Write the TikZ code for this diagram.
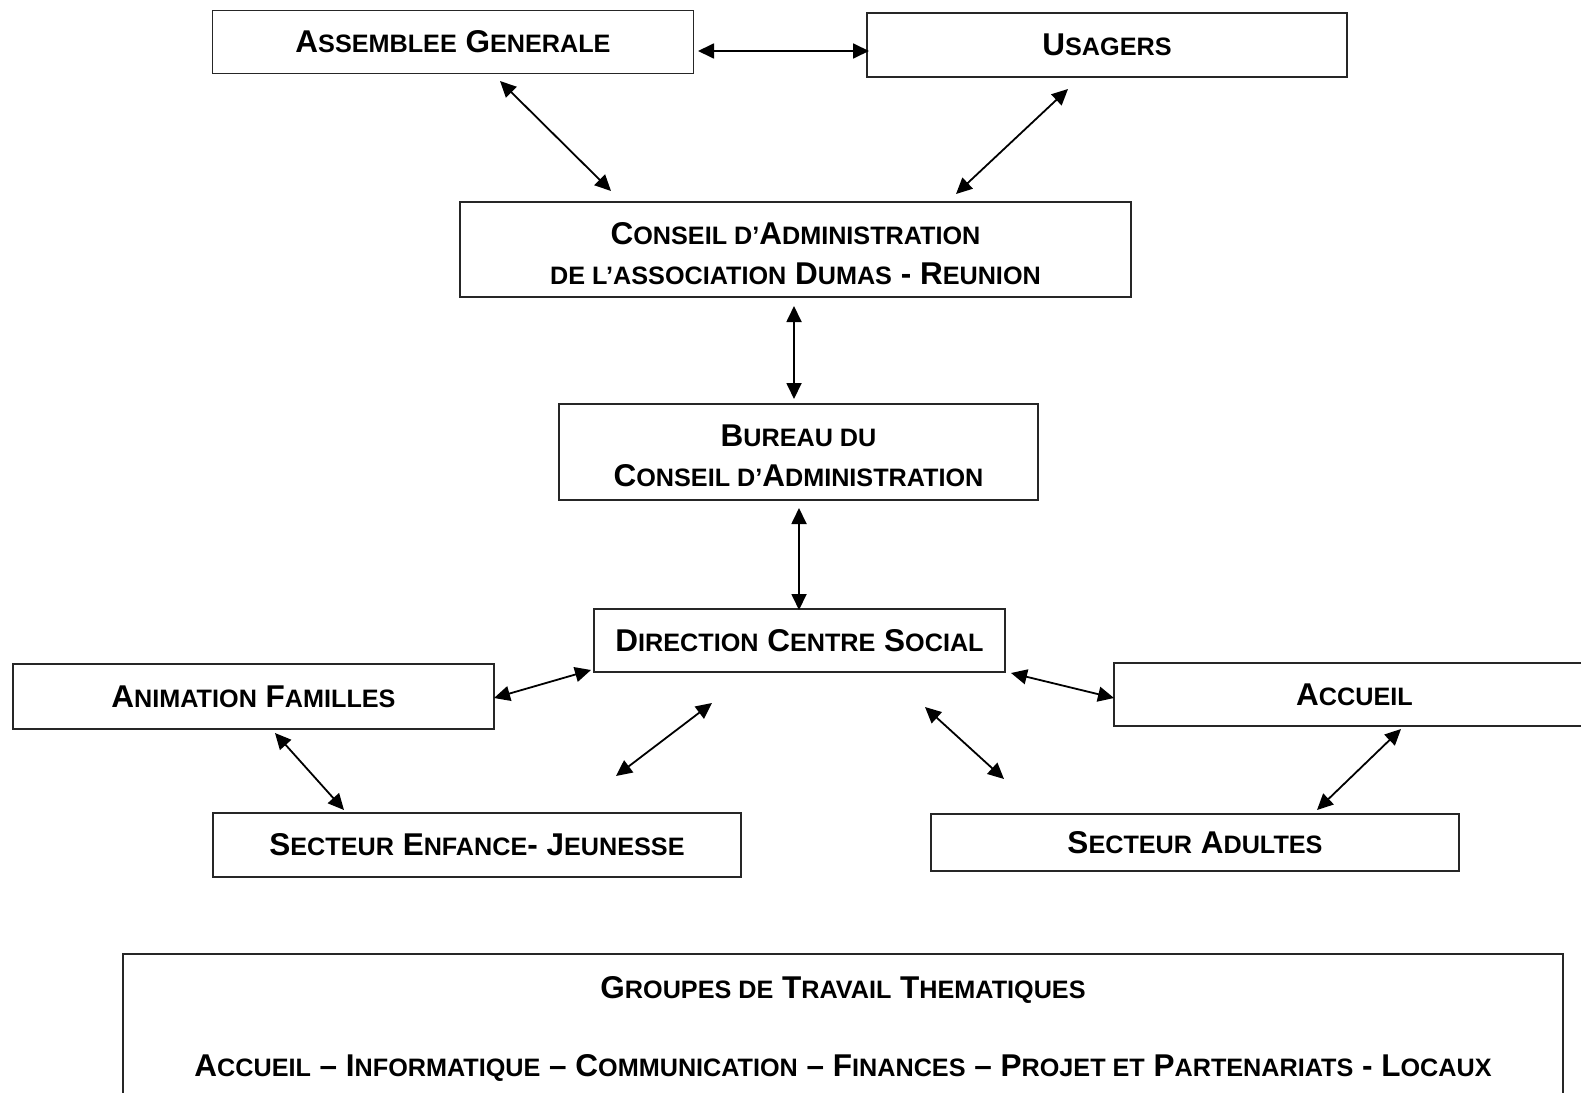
\documentclass[tikz,border=0pt]{standalone}
\usepackage{fontspec}
\setmainfont{Liberation Sans}
\usetikzlibrary{arrows.meta}
\newcommand\Sc[1]{{\fontsize{25.2}{40}\selectfont #1}}
\begin{document}
\begin{tikzpicture}[x=1pt,y=-1pt,
  box/.style={draw=black!85, line width=1.3pt, rectangle, inner sep=0pt, align=center,
    font=\bfseries\fontsize{31.5}{40}\selectfont},
  txt/.style={inner sep=0pt, align=center, font=\bfseries\fontsize{31.5}{39.5}\selectfont},
  link/.style={line width=1.8pt, {Triangle[length=16pt,width=15pt]}-{Triangle[length=16pt,width=15pt]}}]
\clip (0,0) rectangle (1581,1092);
\fill[white] (0,0) rectangle (1581,1092);
% boxes
\node[box, minimum width=481pt, minimum height=63pt] (ag) at (453,42) {A\Sc{SSEMBLEE} G\Sc{ENERALE}};
\node[box, minimum width=480pt, minimum height=64pt] (us) at (1107,45) {U\Sc{SAGERS}};
\node[box, minimum width=671pt, minimum height=95pt] (ca) at (795.5,249.5) {};
\node[txt] (cat) at ([yshift=-4pt]ca.center) {C\Sc{ONSEIL D’}A\Sc{DMINISTRATION}\\\Sc{DE L’ASSOCIATION} D\Sc{UMAS} - R\Sc{EUNION}};
\node[box, minimum width=479pt, minimum height=96pt] (bu) at (798.5,452) {};
\node[txt] (but) at ([yshift=-4pt]bu.center) {B\Sc{UREAU DU}\\C\Sc{ONSEIL D’}A\Sc{DMINISTRATION}};
\node[box, minimum width=411pt, minimum height=63pt] (di) at (799.5,640.5) {D\Sc{IRECTION} C\Sc{ENTRE} S\Sc{OCIAL}};
\node[box, minimum width=481pt, minimum height=65pt] (af) at (253.5,696.5) {A\Sc{NIMATION} F\Sc{AMILLES}};
\node[box, minimum width=481pt, minimum height=63pt] (ac) at (1354.5,694.5) {A\Sc{CCUEIL}};
\node[box, minimum width=528pt, minimum height=64pt] (ej) at (477,845) {S\Sc{ECTEUR} E\Sc{NFANCE}- J\Sc{EUNESSE}};
\node[box, minimum width=528pt, minimum height=57pt] (sa) at (1195,842.5) {S\Sc{ECTEUR} A\Sc{DULTES}};
\draw[draw=black!85, line width=1.3pt] (123,954) rectangle (1563,1110);
\node[txt] (gt) at (843,990) {G\Sc{ROUPES DE} T\Sc{RAVAIL} T\Sc{HEMATIQUES}};
\node[txt] (gl) at (843,1068) {A\Sc{CCUEIL} – I\Sc{NFORMATIQUE} – C\Sc{OMMUNICATION} – F\Sc{INANCES} – P\Sc{ROJET ET} P\Sc{ARTENARIATS} - L\Sc{OCAUX}};
% connector ends
\coordinate (p1a) at (698,51);  \coordinate (p1b) at (869,51);
\coordinate (p2a) at (500,81);  \coordinate (p2b) at (611,191);
\coordinate (p3a) at (1068,89); \coordinate (p3b) at (956,194);
\coordinate (p4a) at (794,306); \coordinate (p4b) at (794,399);
\coordinate (p5a) at (799,508); \coordinate (p5b) at (799,610);
\coordinate (p6a) at (591,670); \coordinate (p6b) at (494,698);
\coordinate (p7a) at (1011,673);\coordinate (p7b) at (1114,698);
\coordinate (p8a) at (712,703); \coordinate (p8b) at (616,776);
\coordinate (p9a) at (925,707); \coordinate (p9b) at (1004,779);
\coordinate (q1a) at (275,733); \coordinate (q1b) at (344,810);
\coordinate (q2a) at (1401,729);\coordinate (q2b) at (1317,810);
\draw[link] (p1a) -- (p1b);
\draw[link] (p2a) -- (p2b);
\draw[link] (p3a) -- (p3b);
\draw[link] (p4a) -- (p4b);
\draw[link] (p5a) -- (p5b);
\draw[link] (p6a) -- (p6b);
\draw[link] (p7a) -- (p7b);
\draw[link] (p8a) -- (p8b);
\draw[link] (p9a) -- (p9b);
\draw[link] (q1a) -- (q1b);
\draw[link] (q2a) -- (q2b);
\end{tikzpicture}
\end{document}
